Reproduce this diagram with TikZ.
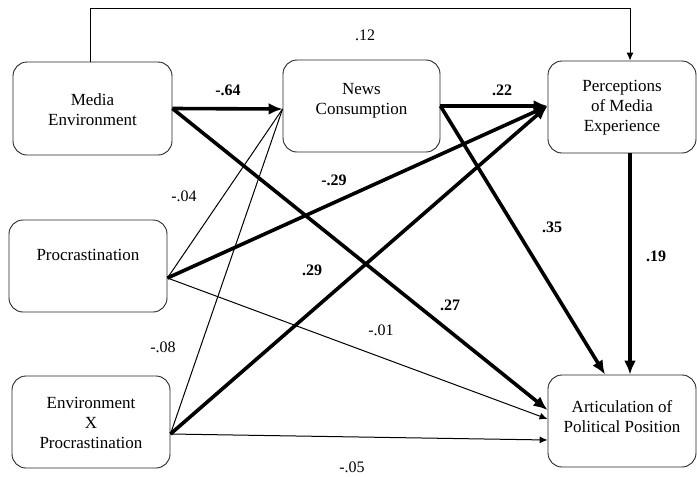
\documentclass[tikz,border=0pt]{standalone}
\usepackage{fontspec}
\setmainfont{Liberation Serif}
\newfontfamily\tnr{Liberation Serif}
\usetikzlibrary{arrows.meta}
\begin{document}
\begin{tikzpicture}[x=1pt,y=-1pt,
  box/.style={draw=black!85,line width=0.9pt,rounded corners=14pt,inner sep=0pt},
  boxtext/.style={align=center,font=\tnr\fontsize{17}{20}\selectfont,inner sep=0pt},
  lab/.style={font=\tnr\fontsize{16}{18}\selectfont,inner sep=0pt},
  blab/.style={font=\tnr\fontsize{16}{18}\selectfont\bfseries,inner sep=0pt},
  thinarrow/.style={line width=1pt,-{Latex[length=8pt,width=7pt]}},
  thinnoarrow/.style={line width=1pt},
  thickarrow/.style={line width=3.6pt,-{Latex[length=14pt,width=12pt]}}]
\useasboundingbox (0,0) rectangle (697,477);
% boxes
\node[box,minimum width=159pt,minimum height=93pt] (me) at (92.5,108.5) {};
\node[box,minimum width=157pt,minimum height=92pt] (nc) at (361.5,106) {};
\node[box,minimum width=148pt,minimum height=92pt] (pm) at (622,107) {};
\node[box,minimum width=158pt,minimum height=92pt] (pr) at (88,266) {};
\node[box,minimum width=158pt,minimum height=92pt] (ex) at (91,422) {};
\node[box,minimum width=148pt,minimum height=92pt] (ap) at (622,421) {};
% texts
\node[boxtext] (metxt) at (92.5,110) {Media\\Environment};
\node[boxtext] (nctxt) at (361.5,101) {News\\Consumption};
\node[boxtext] (pmtxt) at (622,108) {Perceptions\\of Media\\Experience};
\node[boxtext] (prtxt) at (88,255) {Procrastination};
\node[boxtext] (extxt) at (91,423) {Environment\\X\\Procrastination};
\node[boxtext] (aptxt) at (622,417) {Articulation of\\Political Position};
% anchor points
\coordinate (meS) at (me.east);
\coordinate (ncT) at ([yshift=-3pt]nc.west);
\coordinate (ncS) at (nc.east);
\coordinate (pmT) at ([yshift=1pt]pm.west);
\coordinate (prS) at ([yshift=-12pt]pr.east);
\coordinate (exS) at ([yshift=-12pt]ex.east);
\coordinate (apT1) at ([yshift=11pt]ap.west);
\coordinate (apT2) at ([yshift=2pt]ap.west);
\coordinate (apT3) at ([yshift=-19pt]ap.west);
\coordinate (apN1) at ([xshift=-17pt]ap.north);
\coordinate (apN2) at ([xshift=8pt]ap.north);
\coordinate (pmB) at ([xshift=8pt]pm.south);
\coordinate (meN) at ([xshift=-2.5pt]me.north);
\coordinate (pmN) at ([xshift=8pt]pm.north);
\coordinate (topL) at (90,8);
\coordinate (topR) at (630,8);
% connectors
\draw[thinarrow] (meN) -- (topL) -- (topR) -- (pmN);
\draw[thinnoarrow] (prS) -- (ncT);
\draw[thinnoarrow] (exS) -- (ncT);
\draw[thinarrow] (prS) -- (apT2);
\draw[thinarrow] (exS) -- (apT3);
\draw[thickarrow] (meS) -- (ncT);
\draw[thickarrow] (ncS) -- (pmT);
\draw[thickarrow] (prS) -- (pmT);
\draw[thickarrow] (exS) -- (pmT);
\draw[thickarrow] (meS) -- (apT1);
\draw[thickarrow] (ncS) -- (apN1);
\draw[thickarrow] (pmB) -- (apN2);
% labels
\node[lab] (l12) at (365,35) {.12};
\node[blab] (l64) at (228,90) {-.64};
\node[blab] (l22) at (502,90) {.22};
\node[blab] (l29n) at (334,180) {-.29};
\node[lab] (l04) at (184,196) {-.04};
\node[blab] (l29) at (312,270) {.29};
\node[blab] (l35) at (552,227) {.35};
\node[blab] (l19) at (656,256) {.19};
\node[blab] (l27) at (450,305) {.27};
\node[lab] (l01) at (381,330) {-.01};
\node[lab] (l08) at (163,347) {-.08};
\node[lab] (l05) at (352,467) {-.05};
\end{tikzpicture}
\end{document}
